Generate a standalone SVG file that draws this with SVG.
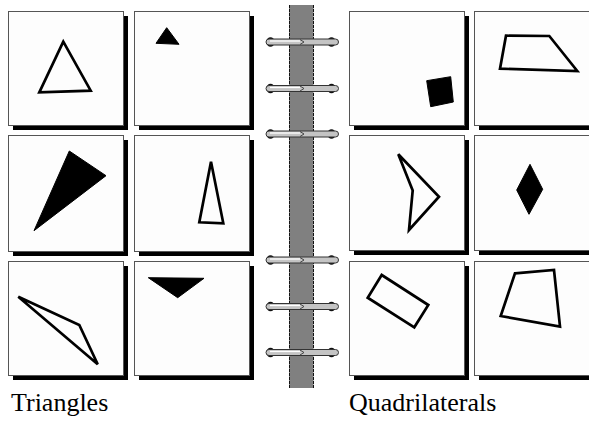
<svg xmlns="http://www.w3.org/2000/svg" width="589" height="421" viewBox="0 0 589 421">
<style>
.shadow{fill:#000}
.card{fill:#fdfdfd;stroke:#555;stroke-width:1}
.out{fill:none;stroke:#000;stroke-width:2.7;stroke-linejoin:miter}
.fill{fill:#000;stroke:#000;stroke-width:1}
.lbl{font-size:26px;fill:#000}
.knob{fill:#111}
.tube{fill:#c4c4c4;stroke:#333;stroke-width:1}
.hl{stroke:#fff;stroke-width:1.3}
</style>
<defs>
<g id="ring">
<ellipse class="knob" cx="270.5" cy="0" rx="4" ry="4.8"/>
<ellipse class="knob" cx="331.5" cy="0" rx="4" ry="4.8"/>
<rect class="tube" x="266" y="-3" width="72.5" height="6" rx="3" ry="3"/>
<line class="hl" x1="270" y1="-1" x2="300" y2="-1"/>
<path d="M300 -2.5 L304 0 L300 2.5" fill="none" stroke="#444" stroke-width="1"/>
</g>
</defs>
<rect width="589" height="421" fill="#fff"/>

<g id="panel-t1">
<rect class="shadow" x="13" y="16" width="115" height="114"/>
<rect class="card" x="8.5" y="11.5" width="115" height="114"/>
<path class="out" d="M63.3 41.7 L39.3 92.3 L90.7 90.7 Z"/>
</g>
<g id="panel-t2">
<rect class="shadow" x="139" y="16" width="115" height="114"/>
<rect class="card" x="134.5" y="11.5" width="115" height="114"/>
<path class="fill" d="M166.7 27.7 L156 43.3 L179 44.3 Z"/>
</g>
<g id="panel-t3">
<rect class="shadow" x="13" y="140" width="115" height="116"/>
<rect class="card" x="8.5" y="135.5" width="115" height="116"/>
<path class="fill" d="M69.3 151 L106 175.7 L34 230.7 Z"/>
</g>
<g id="panel-t4">
<rect class="shadow" x="139" y="140" width="115" height="116"/>
<rect class="card" x="134.5" y="135.5" width="115" height="116"/>
<path class="out" d="M211 161.7 L199.3 222.3 L223.3 223.3 Z"/>
</g>
<g id="panel-t5">
<rect class="shadow" x="13" y="266" width="115" height="114"/>
<rect class="card" x="8.5" y="261.5" width="115" height="114"/>
<path class="out" d="M18.3 296.7 L79.3 325 L97.7 364.3 Z"/>
</g>
<g id="panel-t6">
<rect class="shadow" x="139" y="266" width="115" height="114"/>
<rect class="card" x="134.5" y="261.5" width="115" height="114"/>
<path class="fill" d="M148.3 277.7 L204 278.3 L177.7 297.7 Z"/>
</g>

<g id="spine">
<rect x="289" y="5" width="24.5" height="383" fill="#808080"/>
<line x1="289.5" y1="5" x2="289.5" y2="388" stroke="#111" stroke-width="1" stroke-dasharray="3 1"/>
<line x1="313.5" y1="5" x2="313.5" y2="388" stroke="#111" stroke-width="1" stroke-dasharray="3 1"/>
</g>

<g id="panel-q1">
<rect class="shadow" x="354" y="16" width="115" height="114"/>
<rect class="card" x="349.5" y="11.5" width="115" height="114"/>
<path class="fill" d="M426.7 80.7 L450.7 76.7 L453.3 102 L430.7 106.7 Z"/>
</g>
<g id="panel-q2">
<rect class="shadow" x="479" y="16" width="115" height="114"/>
<rect class="card" x="474.5" y="11.5" width="118" height="114"/>
<path class="out" d="M506 35.7 L549.3 36 L577.3 71 L500 68.7 Z"/>
</g>
<g id="panel-q3">
<rect class="shadow" x="354" y="140" width="115" height="115"/>
<rect class="card" x="349.5" y="135.5" width="115" height="115"/>
<path class="out" d="M398.3 154.3 L439 196.7 L409 230 L412.7 190.5 Z"/>
</g>
<g id="panel-q4">
<rect class="shadow" x="479" y="140" width="115" height="115"/>
<rect class="card" x="474.5" y="135.5" width="118" height="115"/>
<path class="fill" d="M530 164.3 L542.7 189.3 L529 214.3 L516.7 190 Z"/>
</g>
<g id="panel-q5">
<rect class="shadow" x="354" y="266" width="115" height="114"/>
<rect class="card" x="349.5" y="261.5" width="115" height="114"/>
<path class="out" d="M381.7 275 L428.3 305 L414.3 327.3 L367.7 297.7 Z"/>
</g>
<g id="panel-q6">
<rect class="shadow" x="479" y="266" width="115" height="114"/>
<rect class="card" x="474.5" y="261.5" width="118" height="114"/>
<path class="out" d="M515 273.3 L554 270 L560 326.7 L500.7 316 Z"/>
</g>

<g id="rings">
<use href="#ring" y="42"/>
<use href="#ring" y="88.5"/>
<use href="#ring" y="134"/>
<use href="#ring" y="260"/>
<use href="#ring" y="306.5"/>
<use href="#ring" y="352.5"/>
</g>

<g id="labels" font-family="'Liberation Serif', 'DejaVu Serif', serif">
<text class="lbl" x="11" y="411">Triangles</text>
<text class="lbl" x="349" y="411">Quadrilaterals</text>
</g>
</svg>
